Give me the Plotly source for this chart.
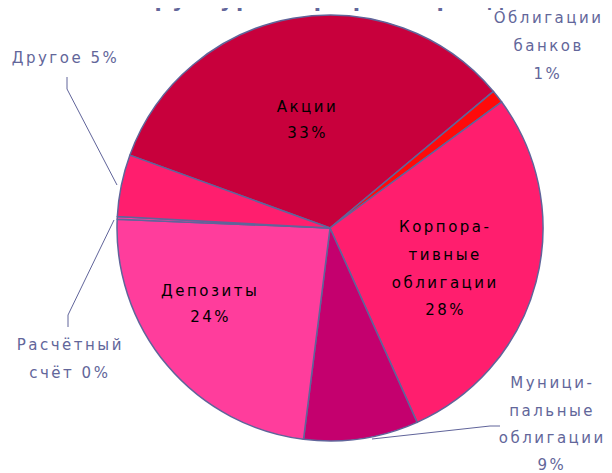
import plotly.graph_objects as go

# page is shown with an 8px body margin, so the figure is drawn 8px in from the corner
OFF = 8
W, H = 612, 473

labels = ["Акции", "Облигации банков", "Корпоративные облигации",
          "Муниципальные облигации", "Депозиты", "Расчётный счёт", "Другое"]
values = [33.4, 1.0, 28.4, 8.7, 23.7, 0.2, 4.7]
pct_text = ["33%", "1%", "28%", "9%", "24%", "0%", "5%"]
colors = ["#C8003C", "#FF0A0A", "#FF1E6E", "#C4006E", "#FF3D9C", "#FF3D9C", "#FF1E6E"]

title_text = "Структура портфеля фонда"
edge_col = "#60649A"
lab_col = "#62669A"
FONT = "DejaVu Sans"


def px(x, y):
    """reference-page pixel -> paper coordinates"""
    return (x - OFF) / W, 1 - (y - OFF) / H


cx, cy, r = 330, 228, 213
fx, fy = cx - OFF, cy - OFF

fig = go.Figure(go.Pie(
    labels=labels, values=values, sort=False, direction="clockwise",
    rotation=-70, textinfo="none", hoverinfo="label+percent",
    marker=dict(colors=colors, line=dict(color=edge_col, width=1.5)),
    domain=dict(x=[(fx - r) / W, (fx + r) / W], y=[(H - fy - r) / H, (H - fy + r) / H]),
    showlegend=False,
))

label_specs = [
    (["Акции", pct_text[0]], 307, [107, 133], "black"),
    (["Облигации", "банков", pct_text[1]], 548, [18, 46, 74], lab_col),
    (["Корпора-", "тивные", "облигации", pct_text[2]], 445, [227, 255, 283, 310], "black"),
    (["Муници-", "пальные", "облигации", pct_text[3]], 552, [383, 411, 438, 465], lab_col),
    (["Депозиты", pct_text[4]], 210, [291, 317], "black"),
    (["Расчётный", "счёт " + pct_text[5]], 70, [345, 373], lab_col),
    (["Другое " + pct_text[6]], 65, [58], lab_col),
]

annotations = []
for lines, x, ys, col in label_specs:
    for line, y in zip(lines, ys):
        ax, ay = px(x, y)
        annotations.append(dict(text=line, x=ax, y=ay, xref="paper", yref="paper",
                                xanchor="center", yanchor="middle", showarrow=False,
                                font=dict(family=FONT, size=15, color=col)))

tx, ty = px(322, 14)
annotations.append(dict(text="<b>" + title_text + "</b>", x=tx, y=ty, xref="paper", yref="paper",
                        xanchor="center", yanchor="bottom", showarrow=False,
                        font=dict(family=FONT, size=21, color=lab_col)))

leaders = [
    [(67, 77), (67, 89), (117, 185)],
    [(114, 220), (68, 315), (68, 327)],
    [(500, 426), (490, 426), (372, 439)],
]
shapes = []
for pts in leaders:
    for (x0, y0), (x1, y1) in zip(pts[:-1], pts[1:]):
        a0, b0 = px(x0, y0)
        a1, b1 = px(x1, y1)
        shapes.append(dict(type="line", xref="paper", yref="paper", x0=a0, y0=b0, x1=a1, y1=b1,
                           line=dict(color=edge_col, width=1)))

fig.update_layout(
    width=W, height=H, margin=dict(l=0, r=0, t=0, b=0),
    paper_bgcolor="white", plot_bgcolor="white",
    annotations=annotations, shapes=shapes,
    font=dict(family=FONT),
)

post = """
var gd = document.getElementById('{plot_id}');
function spaceText() {
  document.querySelectorAll('.annotation-text').forEach(function (e) {
    e.style.letterSpacing = '2.5px';
  });
}
spaceText();
setTimeout(spaceText, 50);
if (gd && gd.on) { gd.on('plotly_afterplot', spaceText); }
"""

fig.write_html("out.html", post_script=post)
